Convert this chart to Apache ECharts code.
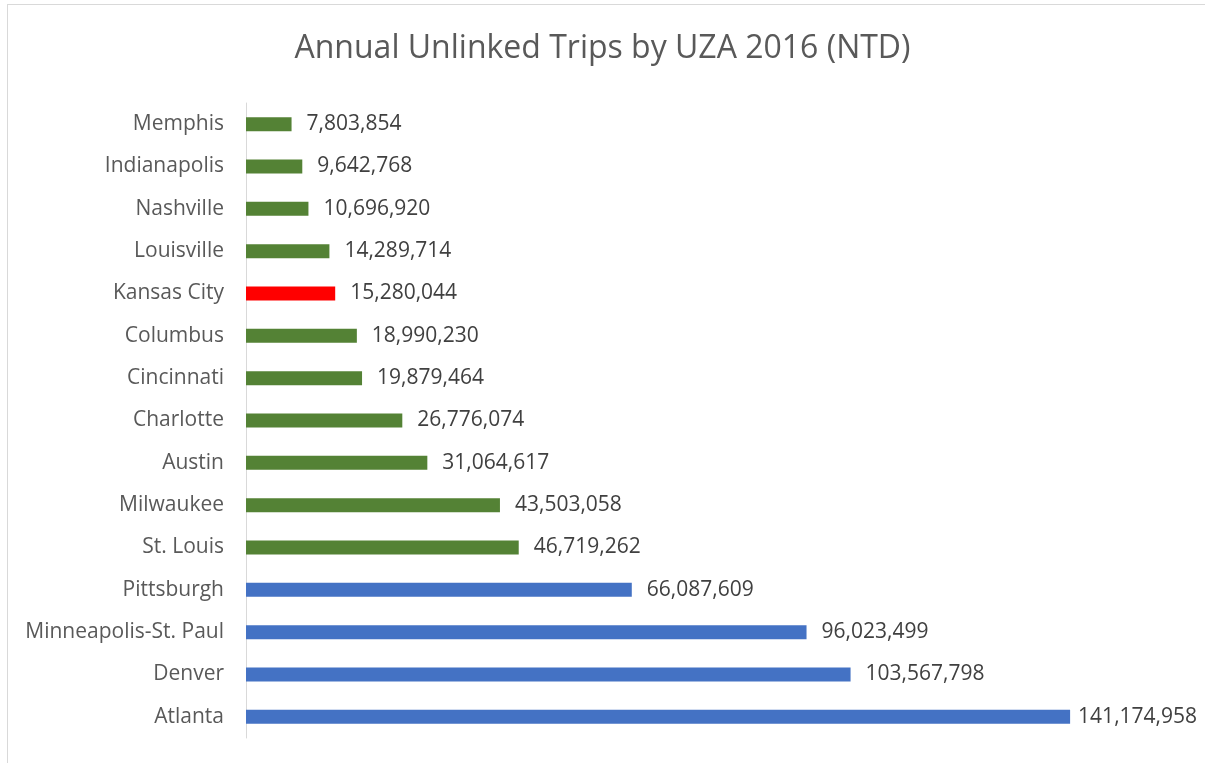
<!DOCTYPE html>
<html>
<head>
<meta charset="utf-8">
<script src="https://cdn.jsdelivr.net/npm/echarts@6/dist/echarts.min.js"></script>
<style>
  html, body { margin: 0; padding: 0; background: #fff; }
  #frame { position: absolute; left: 7px; top: 4px; width: 1210px; height: 770px; border: 1px solid #d9d9d9; box-sizing: border-box; }
  #chart { position: absolute; left: 0; top: 0; width: 1205px; height: 763px; }
</style>
</head>
<body>
<div id="frame"></div>
<div id="chart"></div>
<script>
// bottom to top, as in the picture
const cities = ['Atlanta', 'Denver', 'Minneapolis-St. Paul', 'Pittsburgh', 'St. Louis', 'Milwaukee', 'Austin',
  'Charlotte', 'Cincinnati', 'Columbus', 'Kansas City', 'Louisville', 'Nashville', 'Indianapolis', 'Memphis']
const trips = [141174958, 103567798, 96023499, 66087609, 46719262, 43503058, 31064617,
  26776074, 19879464, 18990230, 15280044, 14289714, 10696920, 9642768, 7803854]
const groups = ['blue', 'blue', 'blue', 'blue', 'green', 'green', 'green',
  'green', 'green', 'green', 'red', 'green', 'green', 'green', 'green']

const colorMap = { blue: '#4472c4', green: '#548235', red: '#ff0000' }

const chart = echarts.init(document.getElementById('chart'))
chart.setOption({
  animation: false,
  textStyle: { fontFamily: 'Open Sans, Noto Sans, sans-serif' },
  title: {
    text: 'Annual Unlinked Trips by UZA 2016 (NTD)',
    left: 'center',
    top: 28,
    textStyle: { fontSize: 32, fontWeight: 'normal', color: '#595959', fontFamily: 'Open Sans' }
  },
  grid: { left: 246, right: 25, top: 103, bottom: 25, containLabel: false },
  xAxis: {
    type: 'value',
    min: 0,
    max: 160000000,
    show: false
  },
  yAxis: {
    type: 'category',
    data: cities,
    axisLine: { show: true, lineStyle: { color: '#d9d9d9', width: 1 } },
    axisTick: { show: false },
    axisLabel: { color: '#595959', fontSize: 21, margin: 22, fontFamily: 'Open Sans' }
  },
  series: [{
    type: 'bar',
    barWidth: 14,
    data: trips.map((v, i) => ({
      value: v,
      itemStyle: { color: colorMap[groups[i]] },
      // the longest bar's label is pulled in to stay inside the frame
      label: i === 0 ? { distance: 8 } : undefined
    })),
    label: {
      show: true,
      position: 'right',
      distance: 15,
      color: '#404040',
      fontSize: 21,
      fontFamily: 'Open Sans',
      formatter: p => p.value.toLocaleString('en-US')
    }
  }]
})
</script>
</body>
</html>
